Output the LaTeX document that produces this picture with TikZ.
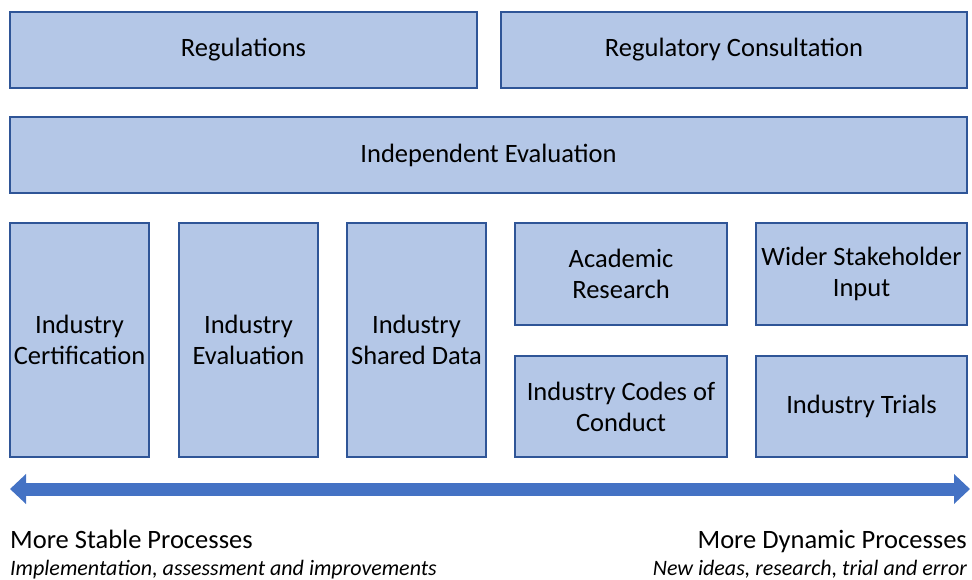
\documentclass[tikz,border=0pt]{standalone}
\usepackage{fontspec}
\setmainfont{Carlito}
\usetikzlibrary{arrows.meta}
\definecolor{boxfill}{HTML}{B4C7E7}
\definecolor{boxline}{HTML}{2F5597}
\definecolor{arrowblue}{HTML}{4472C4}
\tikzset{
  block/.style={draw=boxline, fill=boxfill, line width=1.6pt, align=center,
    inner sep=0pt, font=\fontsize{26.5}{31}\selectfont},
  bigarrow/.style={draw=arrowblue, line width=13pt,
    {Triangle[length=16pt,width=29pt]}-{Triangle[length=16pt,width=29pt]}},
  caption/.style={inner sep=0pt, font=\fontsize{26.5}{30}\selectfont},
  subcaption/.style={inner sep=0pt, font=\fontsize{22}{25}\selectfont\itshape}
}
\begin{document}
\begin{tikzpicture}[x=1pt,y=-1pt]

  \useasboundingbox (0,0) rectangle (972,580);

  \newcommand\TallW{139pt};
  \newcommand\TallH{234pt};

  %% top row
  \node[block, minimum width=467pt, minimum height=76pt] (reg) at (243.5,50) {Regulations};
  \node[block, minimum width=466pt, minimum height=76pt] (cons) at (734,50) {Regulatory Consultation};
  \node[block, minimum width=957pt, minimum height=76pt] (indep) at (488.5,155) {Independent Evaluation};

  %% tall boxes
  \node[block, minimum width=\TallW, minimum height=\TallH] (cert) at (79.5,340) {Industry\\Certification};
  \node[block, minimum width=\TallW, minimum height=\TallH] (ieval) at (248.5,340) {Industry\\Evaluation};
  \node[block, minimum width=\TallW, minimum height=\TallH] (shared) at (416.5,340) {Industry\\Shared Data};

  %% small boxes
  \node[block, minimum width=212pt, minimum height=102pt] (acad) at (621,274) {Academic\\Research};
  \node[block, minimum width=211pt, minimum height=102pt] (wider) at (861.5,274) {Wider Stakeholder\\Input};
  \node[block, minimum width=212pt, minimum height=101pt] (codes) at (621,406.5) {Industry Codes of\\Conduct};
  \node[block, minimum width=211pt, minimum height=101pt] (trials) at (861.5,406.5) {Industry Trials};

  %% arrow
  \coordinate (stable) at (10,489);
  \coordinate (dynamic) at (970,489);
  \draw[bigarrow] (stable) -- (dynamic);

  %% captions
  \node[caption, anchor=base west] (stabletxt) at (10,548) {More Stable Processes};
  \node[subcaption, anchor=base west] (stablesub) at (10,575) {Implementation, assessment and improvements};
  \node[caption, anchor=base east] (dyntxt) at (967,548) {More Dynamic Processes};
  \node[subcaption, anchor=base east] (dynsub) at (967,575) {New ideas, research, trial and error};
\end{tikzpicture}
\end{document}
